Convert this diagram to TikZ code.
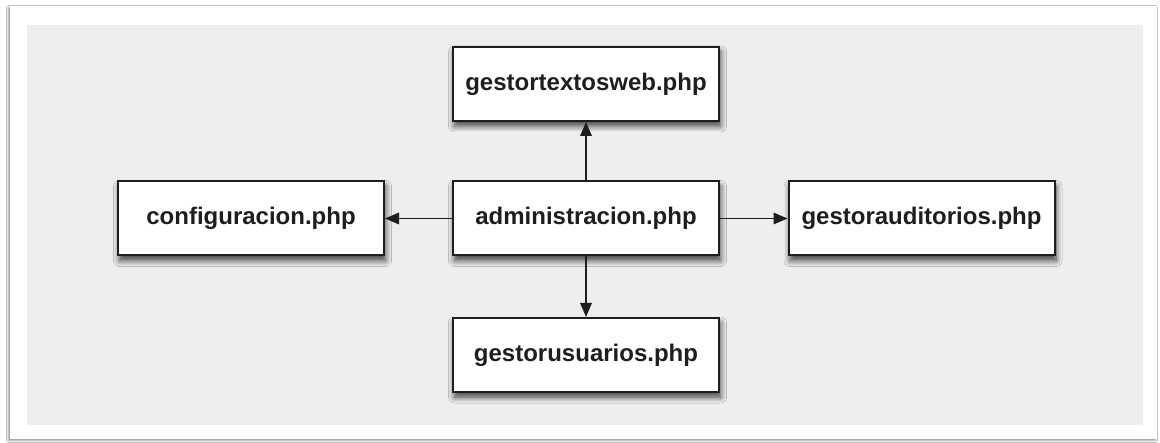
\documentclass[tikz,border=0pt]{standalone}
\usepackage{fontspec}
\setmainfont{Liberation Sans}
\usetikzlibrary{shadows.blur,arrows.meta}

\definecolor{panelgray}{HTML}{EEEEEE}
\definecolor{edgeink}{HTML}{1E1E1E}

\tikzset{
  pagebox/.style={
    draw=edgeink, line width=2pt, fill=white,
    minimum width=266pt, minimum height=74pt, inner sep=0pt,
    font=\bfseries\fontsize{24}{28}\selectfont, text=edgeink,
    blur shadow={shadow xshift=1.5pt, shadow yshift=-5pt,
                 shadow blur radius=6pt, shadow blur steps=8,
                 shadow opacity=75}
  },
  link/.style={
    draw=edgeink, line width=1.6pt,
    -{Triangle[length=14pt,width=11.5pt]}
  }
}

\begin{document}
\begin{tikzpicture}[x=1pt,y=-1pt]
  \useasboundingbox (0,0) rectangle (1160,443);
  \fill[white] (0,0) rectangle (1160,443);

  % outer sheet and inner gray panel
  \fill[white, blur shadow={shadow xshift=-1.5pt, shadow yshift=-1.5pt,
        shadow blur radius=2pt, shadow opacity=45}]
    (10,6) rectangle (1157,439);
  \fill[panelgray] (27,25) rectangle (1143,425);

  % pages
  \node[pagebox] (admin)  at (586,218.5)   {administracion.php};
  \node[pagebox] (textos) at (586,84)      {gestortextosweb.php};
  \node[pagebox] (config) at (251,218.5)   {configuracion.php};
  \node[pagebox] (audit)  at (921.5,218.5) {gestorauditorios.php};
  \node[pagebox] (users)  at (586,355)     {gestorusuarios.php};

  % links out of the administration page
  \draw[link] (admin.north) -- (textos.south);
  \draw[link] (admin.west)  -- (config.east);
  \draw[link] (admin.east)  -- (audit.west);
  \draw[link] (admin.south) -- (users.north);
\end{tikzpicture}
\end{document}
